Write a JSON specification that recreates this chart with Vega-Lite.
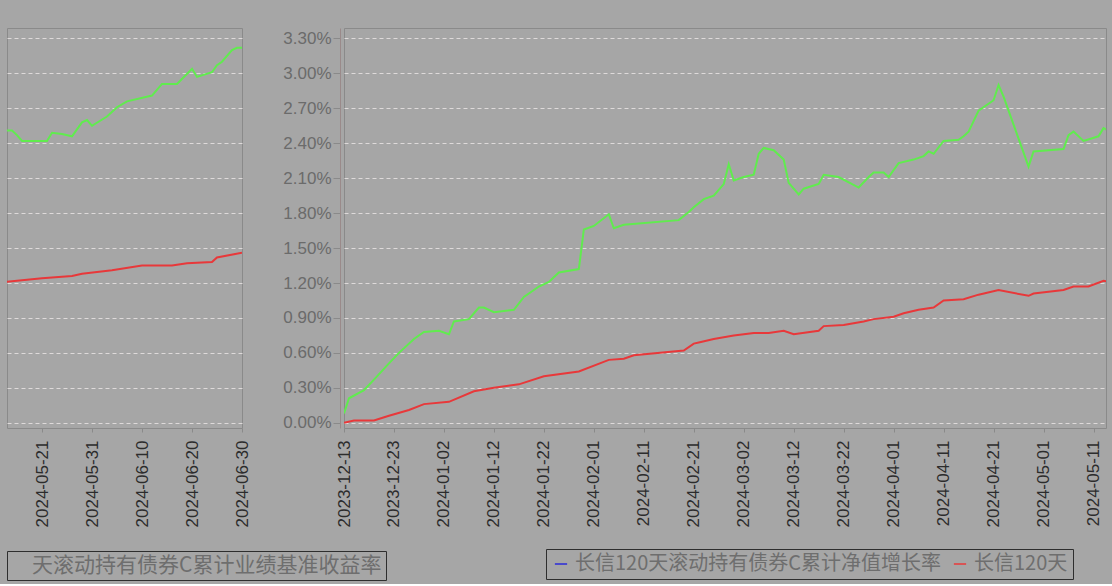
{
  "$schema": "https://vega.github.io/schema/vega-lite/v6.json",
  "background": "#a6a6a6",
  "padding": {"left": 6, "top": 27, "right": 7, "bottom": 3},
  "config": {
    "font": "Noto Sans CJK SC",
    "view": {"stroke": "#8a8a8a", "strokeWidth": 1},
    "axis": {
      "labelFont": "Liberation Sans",
      "gridColor": "#dedada",
      "gridDash": [4, 3],
      "gridWidth": 1,
      "title": null
    },
    "legend": {"labelFont": "Noto Sans CJK SC"}
  },
  "data": {
    "format": {"parse": {"date": "date:'%Y-%m-%d'"}},
    "values": [
      {"date": "2023-12-13", "value": 0.08, "series": "长信120天滚动持有债券C累计净值增长率"},
      {"date": "2023-12-14", "value": 0.21, "series": "长信120天滚动持有债券C累计净值增长率"},
      {"date": "2023-12-17", "value": 0.28, "series": "长信120天滚动持有债券C累计净值增长率"},
      {"date": "2023-12-19", "value": 0.37, "series": "长信120天滚动持有债券C累计净值增长率"},
      {"date": "2023-12-22", "value": 0.51, "series": "长信120天滚动持有债券C累计净值增长率"},
      {"date": "2023-12-24", "value": 0.60, "series": "长信120天滚动持有债券C累计净值增长率"},
      {"date": "2023-12-27", "value": 0.72, "series": "长信120天滚动持有债券C累计净值增长率"},
      {"date": "2023-12-29", "value": 0.78, "series": "长信120天滚动持有债券C累计净值增长率"},
      {"date": "2024-01-01", "value": 0.79, "series": "长信120天滚动持有债券C累计净值增长率"},
      {"date": "2024-01-03", "value": 0.76, "series": "长信120天滚动持有债券C累计净值增长率"},
      {"date": "2024-01-04", "value": 0.87, "series": "长信120天滚动持有债券C累计净值增长率"},
      {"date": "2024-01-07", "value": 0.89, "series": "长信120天滚动持有债券C累计净值增长率"},
      {"date": "2024-01-09", "value": 0.99, "series": "长信120天滚动持有债券C累计净值增长率"},
      {"date": "2024-01-10", "value": 0.99, "series": "长信120天滚动持有债券C累计净值增长率"},
      {"date": "2024-01-12", "value": 0.95, "series": "长信120天滚动持有债券C累计净值增长率"},
      {"date": "2024-01-16", "value": 0.97, "series": "长信120天滚动持有债券C累计净值增长率"},
      {"date": "2024-01-18", "value": 1.08, "series": "长信120天滚动持有债券C累计净值增长率"},
      {"date": "2024-01-21", "value": 1.17, "series": "长信120天滚动持有债券C累计净值增长率"},
      {"date": "2024-01-23", "value": 1.21, "series": "长信120天滚动持有债券C累计净值增长率"},
      {"date": "2024-01-25", "value": 1.29, "series": "长信120天滚动持有债券C累计净值增长率"},
      {"date": "2024-01-29", "value": 1.32, "series": "长信120天滚动持有债券C累计净值增长率"},
      {"date": "2024-01-30", "value": 1.66, "series": "长信120天滚动持有债券C累计净值增长率"},
      {"date": "2024-02-01", "value": 1.69, "series": "长信120天滚动持有债券C累计净值增长率"},
      {"date": "2024-02-04", "value": 1.79, "series": "长信120天滚动持有债券C累计净值增长率"},
      {"date": "2024-02-05", "value": 1.67, "series": "长信120天滚动持有债券C累计净值增长率"},
      {"date": "2024-02-07", "value": 1.70, "series": "长信120天滚动持有债券C累计净值增长率"},
      {"date": "2024-02-18", "value": 1.74, "series": "长信120天滚动持有债券C累计净值增长率"},
      {"date": "2024-02-20", "value": 1.81, "series": "长信120天滚动持有债券C累计净值增长率"},
      {"date": "2024-02-21", "value": 1.85, "series": "长信120天滚动持有债券C累计净值增长率"},
      {"date": "2024-02-23", "value": 1.92, "series": "长信120天滚动持有债券C累计净值增长率"},
      {"date": "2024-02-25", "value": 1.95, "series": "长信120天滚动持有债券C累计净值增长率"},
      {"date": "2024-02-27", "value": 2.05, "series": "长信120天滚动持有债券C累计净值增长率"},
      {"date": "2024-02-28", "value": 2.22, "series": "长信120天滚动持有债券C累计净值增长率"},
      {"date": "2024-02-29", "value": 2.08, "series": "长信120天滚动持有债券C累计净值增长率"},
      {"date": "2024-03-02", "value": 2.11, "series": "长信120天滚动持有债券C累计净值增长率"},
      {"date": "2024-03-04", "value": 2.13, "series": "长信120天滚动持有债券C累计净值增长率"},
      {"date": "2024-03-05", "value": 2.31, "series": "长信120天滚动持有债券C累计净值增长率"},
      {"date": "2024-03-06", "value": 2.36, "series": "长信120天滚动持有债券C累计净值增长率"},
      {"date": "2024-03-08", "value": 2.34, "series": "长信120天滚动持有债券C累计净值增长率"},
      {"date": "2024-03-10", "value": 2.26, "series": "长信120天滚动持有债券C累计净值增长率"},
      {"date": "2024-03-11", "value": 2.06, "series": "长信120天滚动持有债券C累计净值增长率"},
      {"date": "2024-03-13", "value": 1.96, "series": "长信120天滚动持有债券C累计净值增长率"},
      {"date": "2024-03-14", "value": 2.01, "series": "长信120天滚动持有债券C累计净值增长率"},
      {"date": "2024-03-17", "value": 2.05, "series": "长信120天滚动持有债券C累计净值增长率"},
      {"date": "2024-03-18", "value": 2.13, "series": "长信120天滚动持有债券C累计净值增长率"},
      {"date": "2024-03-21", "value": 2.11, "series": "长信120天滚动持有债券C累计净值增长率"},
      {"date": "2024-03-25", "value": 2.02, "series": "长信120天滚动持有债券C累计净值增长率"},
      {"date": "2024-03-27", "value": 2.11, "series": "长信120天滚动持有债券C累计净值增长率"},
      {"date": "2024-03-28", "value": 2.15, "series": "长信120天滚动持有债券C累计净值增长率"},
      {"date": "2024-03-30", "value": 2.15, "series": "长信120天滚动持有债券C累计净值增长率"},
      {"date": "2024-03-31", "value": 2.11, "series": "长信120天滚动持有债券C累计净值增长率"},
      {"date": "2024-04-02", "value": 2.23, "series": "长信120天滚动持有债券C累计净值增长率"},
      {"date": "2024-04-05", "value": 2.26, "series": "长信120天滚动持有债券C累计净值增长率"},
      {"date": "2024-04-07", "value": 2.29, "series": "长信120天滚动持有债券C累计净值增长率"},
      {"date": "2024-04-08", "value": 2.33, "series": "长信120天滚动持有债券C累计净值增长率"},
      {"date": "2024-04-09", "value": 2.31, "series": "长信120天滚动持有债券C累计净值增长率"},
      {"date": "2024-04-11", "value": 2.42, "series": "长信120天滚动持有债券C累计净值增长率"},
      {"date": "2024-04-14", "value": 2.43, "series": "长信120天滚动持有债券C累计净值增长率"},
      {"date": "2024-04-15", "value": 2.46, "series": "长信120天滚动持有债券C累计净值增长率"},
      {"date": "2024-04-16", "value": 2.50, "series": "长信120天滚动持有债券C累计净值增长率"},
      {"date": "2024-04-18", "value": 2.68, "series": "长信120天滚动持有债券C累计净值增长率"},
      {"date": "2024-04-21", "value": 2.77, "series": "长信120天滚动持有债券C累计净值增长率"},
      {"date": "2024-04-22", "value": 2.90, "series": "长信120天滚动持有债券C累计净值增长率"},
      {"date": "2024-04-23", "value": 2.80, "series": "长信120天滚动持有债券C累计净值增长率"},
      {"date": "2024-04-24", "value": 2.68, "series": "长信120天滚动持有债券C累计净值增长率"},
      {"date": "2024-04-28", "value": 2.20, "series": "长信120天滚动持有债券C累计净值增长率"},
      {"date": "2024-04-29", "value": 2.33, "series": "长信120天滚动持有债券C累计净值增长率"},
      {"date": "2024-05-05", "value": 2.35, "series": "长信120天滚动持有债券C累计净值增长率"},
      {"date": "2024-05-06", "value": 2.47, "series": "长信120天滚动持有债券C累计净值增长率"},
      {"date": "2024-05-07", "value": 2.50, "series": "长信120天滚动持有债券C累计净值增长率"},
      {"date": "2024-05-09", "value": 2.42, "series": "长信120天滚动持有债券C累计净值增长率"},
      {"date": "2024-05-12", "value": 2.46, "series": "长信120天滚动持有债券C累计净值增长率"},
      {"date": "2024-05-13", "value": 2.53, "series": "长信120天滚动持有债券C累计净值增长率"},
      {"date": "2024-05-14", "value": 2.51, "series": "长信120天滚动持有债券C累计净值增长率"},
      {"date": "2024-05-15", "value": 2.51, "series": "长信120天滚动持有债券C累计净值增长率"},
      {"date": "2024-05-16", "value": 2.47, "series": "长信120天滚动持有债券C累计净值增长率"},
      {"date": "2024-05-17", "value": 2.42, "series": "长信120天滚动持有债券C累计净值增长率"},
      {"date": "2024-05-22", "value": 2.42, "series": "长信120天滚动持有债券C累计净值增长率"},
      {"date": "2024-05-23", "value": 2.49, "series": "长信120天滚动持有债券C累计净值增长率"},
      {"date": "2024-05-25", "value": 2.48, "series": "长信120天滚动持有债券C累计净值增长率"},
      {"date": "2024-05-27", "value": 2.46, "series": "长信120天滚动持有债券C累计净值增长率"},
      {"date": "2024-05-29", "value": 2.58, "series": "长信120天滚动持有债券C累计净值增长率"},
      {"date": "2024-05-30", "value": 2.60, "series": "长信120天滚动持有债券C累计净值增长率"},
      {"date": "2024-05-31", "value": 2.55, "series": "长信120天滚动持有债券C累计净值增长率"},
      {"date": "2024-06-03", "value": 2.63, "series": "长信120天滚动持有债券C累计净值增长率"},
      {"date": "2024-06-05", "value": 2.71, "series": "长信120天滚动持有债券C累计净值增长率"},
      {"date": "2024-06-07", "value": 2.76, "series": "长信120天滚动持有债券C累计净值增长率"},
      {"date": "2024-06-12", "value": 2.81, "series": "长信120天滚动持有债券C累计净值增长率"},
      {"date": "2024-06-14", "value": 2.91, "series": "长信120天滚动持有债券C累计净值增长率"},
      {"date": "2024-06-17", "value": 2.91, "series": "长信120天滚动持有债券C累计净值增长率"},
      {"date": "2024-06-20", "value": 3.04, "series": "长信120天滚动持有债券C累计净值增长率"},
      {"date": "2024-06-21", "value": 2.97, "series": "长信120天滚动持有债券C累计净值增长率"},
      {"date": "2024-06-24", "value": 3.01, "series": "长信120天滚动持有债券C累计净值增长率"},
      {"date": "2024-06-25", "value": 3.07, "series": "长信120天滚动持有债券C累计净值增长率"},
      {"date": "2024-06-26", "value": 3.10, "series": "长信120天滚动持有债券C累计净值增长率"},
      {"date": "2024-06-28", "value": 3.20, "series": "长信120天滚动持有债券C累计净值增长率"},
      {"date": "2024-06-29", "value": 3.22, "series": "长信120天滚动持有债券C累计净值增长率"},
      {"date": "2024-06-30", "value": 3.22, "series": "长信120天滚动持有债券C累计净值增长率"},
      {"date": "2023-12-13", "value": 0.00, "series": "长信120天滚动持有债券C累计业绩基准收益率"},
      {"date": "2023-12-15", "value": 0.02, "series": "长信120天滚动持有债券C累计业绩基准收益率"},
      {"date": "2023-12-19", "value": 0.02, "series": "长信120天滚动持有债券C累计业绩基准收益率"},
      {"date": "2023-12-22", "value": 0.06, "series": "长信120天滚动持有债券C累计业绩基准收益率"},
      {"date": "2023-12-26", "value": 0.11, "series": "长信120天滚动持有债券C累计业绩基准收益率"},
      {"date": "2023-12-29", "value": 0.16, "series": "长信120天滚动持有债券C累计业绩基准收益率"},
      {"date": "2024-01-03", "value": 0.18, "series": "长信120天滚动持有债券C累计业绩基准收益率"},
      {"date": "2024-01-08", "value": 0.27, "series": "长信120天滚动持有债券C累计业绩基准收益率"},
      {"date": "2024-01-12", "value": 0.30, "series": "长信120天滚动持有债券C累计业绩基准收益率"},
      {"date": "2024-01-17", "value": 0.33, "series": "长信120天滚动持有债券C累计业绩基准收益率"},
      {"date": "2024-01-22", "value": 0.40, "series": "长信120天滚动持有债券C累计业绩基准收益率"},
      {"date": "2024-01-29", "value": 0.44, "series": "长信120天滚动持有债券C累计业绩基准收益率"},
      {"date": "2024-02-04", "value": 0.54, "series": "长信120天滚动持有债券C累计业绩基准收益率"},
      {"date": "2024-02-07", "value": 0.55, "series": "长信120天滚动持有债券C累计业绩基准收益率"},
      {"date": "2024-02-09", "value": 0.58, "series": "长信120天滚动持有债券C累计业绩基准收益率"},
      {"date": "2024-02-19", "value": 0.62, "series": "长信120天滚动持有债券C累计业绩基准收益率"},
      {"date": "2024-02-21", "value": 0.68, "series": "长信120天滚动持有债券C累计业绩基准收益率"},
      {"date": "2024-02-22", "value": 0.69, "series": "长信120天滚动持有债券C累计业绩基准收益率"},
      {"date": "2024-02-25", "value": 0.72, "series": "长信120天滚动持有债券C累计业绩基准收益率"},
      {"date": "2024-02-29", "value": 0.75, "series": "长信120天滚动持有债券C累计业绩基准收益率"},
      {"date": "2024-03-04", "value": 0.77, "series": "长信120天滚动持有债券C累计业绩基准收益率"},
      {"date": "2024-03-07", "value": 0.77, "series": "长信120天滚动持有债券C累计业绩基准收益率"},
      {"date": "2024-03-10", "value": 0.79, "series": "长信120天滚动持有债券C累计业绩基准收益率"},
      {"date": "2024-03-12", "value": 0.76, "series": "长信120天滚动持有债券C累计业绩基准收益率"},
      {"date": "2024-03-17", "value": 0.79, "series": "长信120天滚动持有债券C累计业绩基准收益率"},
      {"date": "2024-03-18", "value": 0.83, "series": "长信120天滚动持有债券C累计业绩基准收益率"},
      {"date": "2024-03-22", "value": 0.84, "series": "长信120天滚动持有债券C累计业绩基准收益率"},
      {"date": "2024-03-26", "value": 0.87, "series": "长信120天滚动持有债券C累计业绩基准收益率"},
      {"date": "2024-03-28", "value": 0.89, "series": "长信120天滚动持有债券C累计业绩基准收益率"},
      {"date": "2024-04-01", "value": 0.91, "series": "长信120天滚动持有债券C累计业绩基准收益率"},
      {"date": "2024-04-03", "value": 0.94, "series": "长信120天滚动持有债券C累计业绩基准收益率"},
      {"date": "2024-04-06", "value": 0.97, "series": "长信120天滚动持有债券C累计业绩基准收益率"},
      {"date": "2024-04-09", "value": 0.99, "series": "长信120天滚动持有债券C累计业绩基准收益率"},
      {"date": "2024-04-11", "value": 1.05, "series": "长信120天滚动持有债券C累计业绩基准收益率"},
      {"date": "2024-04-15", "value": 1.06, "series": "长信120天滚动持有债券C累计业绩基准收益率"},
      {"date": "2024-04-18", "value": 1.10, "series": "长信120天滚动持有债券C累计业绩基准收益率"},
      {"date": "2024-04-22", "value": 1.14, "series": "长信120天滚动持有债券C累计业绩基准收益率"},
      {"date": "2024-04-28", "value": 1.09, "series": "长信120天滚动持有债券C累计业绩基准收益率"},
      {"date": "2024-04-29", "value": 1.11, "series": "长信120天滚动持有债券C累计业绩基准收益率"},
      {"date": "2024-05-05", "value": 1.14, "series": "长信120天滚动持有债券C累计业绩基准收益率"},
      {"date": "2024-05-07", "value": 1.17, "series": "长信120天滚动持有债券C累计业绩基准收益率"},
      {"date": "2024-05-10", "value": 1.17, "series": "长信120天滚动持有债券C累计业绩基准收益率"},
      {"date": "2024-05-13", "value": 1.22, "series": "长信120天滚动持有债券C累计业绩基准收益率"},
      {"date": "2024-05-14", "value": 1.21, "series": "长信120天滚动持有债券C累计业绩基准收益率"},
      {"date": "2024-05-21", "value": 1.24, "series": "长信120天滚动持有债券C累计业绩基准收益率"},
      {"date": "2024-05-27", "value": 1.26, "series": "长信120天滚动持有债券C累计业绩基准收益率"},
      {"date": "2024-05-29", "value": 1.28, "series": "长信120天滚动持有债券C累计业绩基准收益率"},
      {"date": "2024-06-04", "value": 1.31, "series": "长信120天滚动持有债券C累计业绩基准收益率"},
      {"date": "2024-06-10", "value": 1.35, "series": "长信120天滚动持有债券C累计业绩基准收益率"},
      {"date": "2024-06-16", "value": 1.35, "series": "长信120天滚动持有债券C累计业绩基准收益率"},
      {"date": "2024-06-19", "value": 1.37, "series": "长信120天滚动持有债券C累计业绩基准收益率"},
      {"date": "2024-06-24", "value": 1.38, "series": "长信120天滚动持有债券C累计业绩基准收益率"},
      {"date": "2024-06-25", "value": 1.42, "series": "长信120天滚动持有债券C累计业绩基准收益率"},
      {"date": "2024-06-30", "value": 1.46, "series": "长信120天滚动持有债券C累计业绩基准收益率"}
    ]
  },
  "hconcat": [
    {
      "width": 235,
      "height": 400,
      "transform": [{"filter": "datum.date >= datetime(2024, 4, 13)"}],
      "mark": {"type": "line", "strokeWidth": 2, "clip": true},
      "encoding": {
        "x": {
          "field": "date",
          "type": "temporal",
          "scale": {"domain": [{"year": 2024, "month": 5, "date": 14}, {"year": 2024, "month": 6, "date": 30}]},
          "axis": {
            "values": [
              {"year": 2024, "month": 5, "date": 21},
              {"year": 2024, "month": 5, "date": 31},
              {"year": 2024, "month": 6, "date": 10},
              {"year": 2024, "month": 6, "date": 20},
              {"year": 2024, "month": 6, "date": 30}
            ],
            "format": "%Y-%m-%d",
            "labelAngle": 270,
            "labelFontSize": 17,
            "labelColor": "#2c2c2c",
            "labelPadding": 8,
            "labelOverlap": false,
            "labelFlush": false,
            "tickSize": 4,
            "tickColor": "#8a8a8a",
            "domain": false,
            "grid": false
          }
        },
        "y": {
          "field": "value",
          "type": "quantitative",
          "scale": {"domain": [-0.045, 3.39], "nice": false, "zero": false},
          "axis": {
            "values": [0, 0.3, 0.6, 0.9, 1.2, 1.5, 1.8, 2.1, 2.4, 2.7, 3.0, 3.3],
            "labels": false,
            "ticks": false,
            "domain": false,
            "grid": true
          }
        },
        "stroke": {
          "field": "series",
          "type": "nominal",
          "scale": {
            "domain": ["长信120天滚动持有债券C累计净值增长率", "长信120天滚动持有债券C累计业绩基准收益率"],
            "range": ["#60ec4e", "#e8383a"]
          },
          "legend": {
            "values": ["长信120天滚动持有债券C累计业绩基准收益率"],
            "labelExpr": "'天滚动持有债券C累计业绩基准收益率'",
            "orient": "none",
            "legendX": 0,
            "legendY": 523,
            "title": null,
            "symbolSize": 0,
            "symbolOpacity": 0,
            "labelOffset": 0,
            "labelFontSize": 21,
            "labelColor": "#6e6e6e",
            "labelLimit": 600,
            "strokeColor": "#2e2e2e",
            "padding": 4
          }
        }
      }
    },
    {
      "width": 762,
      "height": 400,
      "transform": [{"filter": "datum.date <= datetime(2024, 4, 14)"}],
      "encoding": {
        "x": {
          "field": "date",
          "type": "temporal",
          "scale": {"domain": [{"year": 2023, "month": 12, "date": 13}, {"year": 2024, "month": 5, "date": 13, "hours": 12}]},
          "axis": {
            "values": [
              {"year": 2023, "month": 12, "date": 13},
              {"year": 2023, "month": 12, "date": 23},
              {"year": 2024, "month": 1, "date": 2},
              {"year": 2024, "month": 1, "date": 12},
              {"year": 2024, "month": 1, "date": 22},
              {"year": 2024, "month": 2, "date": 1},
              {"year": 2024, "month": 2, "date": 11},
              {"year": 2024, "month": 2, "date": 21},
              {"year": 2024, "month": 3, "date": 2},
              {"year": 2024, "month": 3, "date": 12},
              {"year": 2024, "month": 3, "date": 22},
              {"year": 2024, "month": 4, "date": 1},
              {"year": 2024, "month": 4, "date": 11},
              {"year": 2024, "month": 4, "date": 21},
              {"year": 2024, "month": 5, "date": 1},
              {"year": 2024, "month": 5, "date": 11}
            ],
            "format": "%Y-%m-%d",
            "labelAngle": 270,
            "labelFontSize": 17,
            "labelColor": "#2c2c2c",
            "labelPadding": 8,
            "labelOverlap": false,
            "labelFlush": false,
            "tickSize": 4,
            "tickColor": "#8a8a8a",
            "domain": false,
            "grid": false
          }
        },
        "y": {
          "field": "value",
          "type": "quantitative",
          "scale": {"domain": [-0.045, 3.39], "nice": false, "zero": false},
          "axis": {
            "values": [0, 0.3, 0.6, 0.9, 1.2, 1.5, 1.8, 2.1, 2.4, 2.7, 3.0, 3.3],
            "labelExpr": "format(datum.value, '.2f') + '%'",
            "labelOverlap": false,
            "labelFontSize": 17,
            "labelColor": "#6b6b6b",
            "labelPadding": 2,
            "tickSize": 7,
            "tickColor": "#8a8a8a",
            "domainColor": "#9a8a8a",
            "offset": 4,
            "grid": true
          }
        }
      },
      "layer": [
        {
          "mark": {"type": "line", "strokeWidth": 2, "clip": true},
          "encoding": {
            "stroke": {
              "field": "series",
              "type": "nominal",
              "scale": {
                "domain": ["长信120天滚动持有债券C累计净值增长率", "长信120天滚动持有债券C累计业绩基准收益率"],
                "range": ["#60ec4e", "#e8383a"]
              }
            }
          }
        },
        {
          "mark": {"type": "line", "opacity": 0, "clip": true},
          "encoding": {
            "color": {
              "field": "series",
              "type": "nominal",
              "scale": {
                "domain": ["长信120天滚动持有债券C累计业绩基准收益率", "长信120天滚动持有债券C累计净值增长率"],
                "range": ["#e8383a", "#2a2ad8"]
              },
              "legend": {
                "values": ["长信120天滚动持有债券C累计净值增长率", "长信120天滚动持有债券C累计业绩基准收益率"],
                "orient": "none",
                "legendX": 539,
                "legendY": 521,
                "direction": "horizontal",
                "title": null,
                "labelExpr": "datum.label == '长信120天滚动持有债券C累计业绩基准收益率' ? '长信120天' : datum.label",
                "symbolType": "stroke",
                "symbolStrokeWidth": 1.5,
                "symbolSize": 150,
                "symbolOpacity": 1,
                "labelFontSize": 20,
                "labelColor": "#6e6e6e",
                "labelLimit": 600,
                "columnPadding": 8,
                "strokeColor": "#2e2e2e",
                "padding": 5
              }
            }
          }
        }
      ]
    }
  ],
  "spacing": 102,
  "bounds": "flush",
  "resolve": {
    "scale": {"y": "shared", "stroke": "shared", "color": "shared", "x": "independent"},
    "axis": {"y": "independent", "x": "independent"}
  }
}
